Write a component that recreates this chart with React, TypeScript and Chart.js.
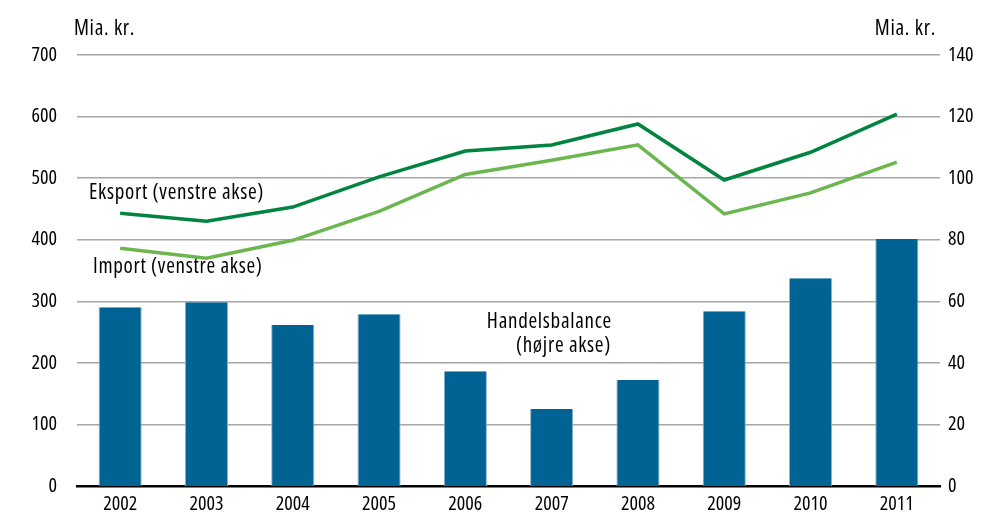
import React, { useEffect, useRef } from "react";
import { Chart, registerables } from "chart.js";

Chart.register(...registerables);

const years = ["2002", "2003", "2004", "2005", "2006", "2007", "2008", "2009", "2010", "2011"];
const eksport = [443, 430, 453, 502, 544, 554, 588, 497, 542, 604];
const importData = [386, 370, 399, 446, 506, 529, 554, 442, 476, 526];
const handelsbalance = [58.1, 59.7, 52.3, 55.8, 37.3, 25.0, 34.4, 56.8, 67.5, 80.2];

const FONT = "'Open Sans', 'Noto Sans', sans-serif";
const FS = 20;
const STRETCH = "semi-condensed";

const textPlugin = {
  id: "texts",
  afterDraw(chart: any) {
    const ctx = chart.ctx;
    ctx.save();
    ctx.fillStyle = "#000";
    ctx.font = `${STRETCH} 21px ${FONT}`;
    try {
      (ctx as any).letterSpacing = "0.7px";
    } catch (e) {}
    ctx.textBaseline = "middle";
    ctx.textAlign = "left";
    ctx.fillText("Mia. kr.", 74, 29);
    ctx.textAlign = "right";
    ctx.fillText("Mia. kr.", 936, 29);
    ctx.textAlign = "left";
    ctx.fillText("Eksport (venstre akse)", 89, 193);
    ctx.fillText("Import (venstre akse)", 93, 267);
    ctx.textAlign = "right";
    ctx.fillText("Handelsbalance", 612, 322);
    ctx.fillText("(højre akse)", 611, 346);
    ctx.restore();
  },
};

const tickFont = { size: FS, family: FONT, weight: STRETCH };

export default function App() {
  const ref = useRef<HTMLCanvasElement>(null);
  useEffect(() => {
    if (!ref.current) return;
    const chart = new Chart(ref.current, {
      data: {
        labels: years,
        datasets: [
          {
            type: "line",
            label: "Eksport",
            data: eksport,
            yAxisID: "y",
            borderColor: "#00843f",
            borderWidth: 3.5,
            pointRadius: 0,
            tension: 0,
            order: 1,
          },
          {
            type: "line",
            label: "Import",
            data: importData,
            yAxisID: "y",
            borderColor: "#6cb650",
            borderWidth: 3.5,
            pointRadius: 0,
            tension: 0,
            order: 2,
          },
          {
            type: "bar",
            label: "Handelsbalance",
            data: handelsbalance,
            yAxisID: "y1",
            backgroundColor: "#006394",
            borderColor: "#8fb3cb",
            borderWidth: { left: 1, right: 1, top: 0, bottom: 0 },
            categoryPercentage: 1,
            barPercentage: 0.5,
            order: 3,
          },
        ],
      } as any,
      options: {
        animation: false,
        responsive: true,
        maintainAspectRatio: false,
        layout: { padding: { top: 55, left: 0, right: 0, bottom: 0 } },
        plugins: { legend: { display: false }, tooltip: { enabled: false } },
        scales: {
          x: {
            grid: { display: false, drawTicks: false },
            border: { display: true, color: "#000", width: 2.5 },
            ticks: { color: "#000", font: tickFont, padding: 6 },
            afterFit(scale: any) {
              scale.height = 37;
            },
          },
          y: {
            position: "left",
            min: 0,
            max: 700,
            ticks: {
              stepSize: 100,
              color: "#000",
              font: tickFont,
              padding: 20,
            },
            grid: {
              color: (c: any) => (c.tick && c.tick.value === 0 ? "rgba(0,0,0,0)" : "#a6a6a6"),
              lineWidth: 1.5,
              drawTicks: false,
            },
            border: { display: false },
            afterFit(scale: any) {
              scale.width = 77;
            },
          },
          y1: {
            position: "right",
            min: 0,
            max: 140,
            ticks: {
              stepSize: 20,
              color: "#000",
              font: tickFont,
              padding: 8,
            },
            grid: { display: false, drawTicks: false },
            border: { display: false },
            afterFit(scale: any) {
              scale.width = 63;
            },
          },
        },
      } as any,
      plugins: [textPlugin],
    });
    return () => chart.destroy();
  }, []);
  return (
    <div style={{ position: "fixed", left: 0, top: 0, width: 1003, height: 523, background: "#fff" }}>
      <canvas ref={ref} />
    </div>
  );
}
